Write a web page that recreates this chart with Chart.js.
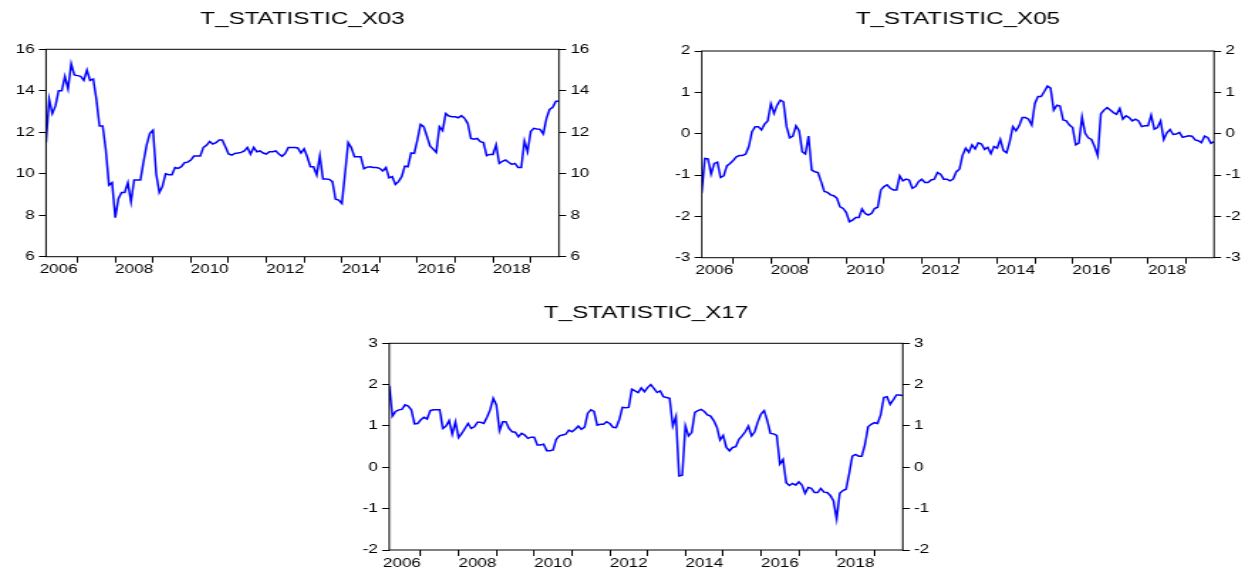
<!DOCTYPE html>
<html>
<head>
<meta charset="utf-8">
<script src="https://cdn.jsdelivr.net/npm/chart.js@4.4.1/dist/chart.umd.min.js"></script>
<style>
  html, body { margin: 0; padding: 0; background: #fff; width: 1246px; height: 571px; overflow: hidden; }
  .panel { position: absolute; transform-origin: 0 0; }
</style>
</head>
<body>
<div class="panel" id="p1"><canvas id="c1"></canvas></div>
<div class="panel" id="p2"><canvas id="c2"></canvas></div>
<div class="panel" id="p3"><canvas id="c3"></canvas></div>
<script>
// monthly observations, first one is 2006M03
const START_YEAR = 2006;
const START_MONTH = 3;
const YEAR_LABELS = ["2006", "2008", "2010", "2012", "2014", "2016", "2018"];

const X03 = [
  11.5, 13.6, 12.9, 13.27, 14.0, 14.0, 14.7, 14.1, 15.3, 14.76,
  14.73, 14.7, 14.5, 15.0, 14.5, 14.57, 13.6, 12.3, 12.3, 11.15,
  9.45, 9.57, 7.88, 8.8, 9.1, 9.1, 9.57, 8.65, 9.7, 9.7,
  9.7, 10.6, 11.4, 11.95, 12.1, 10.0, 9.1, 9.4, 10.0, 9.95,
  9.95, 10.3, 10.26, 10.34, 10.53, 10.56, 10.66, 10.85, 10.85, 10.85,
  11.27, 11.37, 11.55, 11.43, 11.5, 11.63, 11.63, 11.3, 10.95, 10.9,
  10.98, 11.0, 11.03, 11.1, 11.27, 10.95, 11.27, 11.06, 11.1, 11.0,
  10.95, 11.06, 11.06, 11.1, 10.95, 10.84, 10.98, 11.27, 11.27, 11.26,
  11.24, 11.0, 11.2, 10.82, 10.34, 10.34, 9.94, 10.86,
  9.75, 9.75, 9.73, 9.62, 8.77, 8.73, 8.57, 10.0, 11.5, 11.26,
  10.82, 10.82, 10.82, 10.24, 10.32, 10.34, 10.3, 10.3, 10.26, 10.13,
  10.3, 9.8, 9.86, 9.49, 9.62, 9.86, 10.37, 10.34, 11.0, 10.98,
  11.63, 12.38, 12.27, 11.82, 11.34, 11.19, 11.03, 12.27, 12.08, 12.9,
  12.78, 12.75, 12.75, 12.7, 12.8, 12.67, 12.43, 11.7, 11.66, 11.7,
  11.55, 11.5, 10.87, 10.93, 10.93, 11.39, 10.5, 10.6, 10.66, 10.55,
  10.45, 10.5, 10.3, 10.3, 11.58, 11.06, 12.03, 12.19, 12.16, 12.14,
  11.92, 12.67, 13.1, 13.2, 13.5, 13.5
];

const X05 = [
  -1.44, -0.6, -0.61, -0.98, -0.72, -0.69, -1.06, -1.02, -0.78, -0.72,
  -0.65, -0.56, -0.53, -0.53, -0.49, -0.31, 0.05, 0.17, 0.17, 0.09,
  0.23, 0.31, 0.72, 0.49, 0.69, 0.81, 0.77, 0.17, -0.1, -0.06,
  0.19, 0.07, -0.44, -0.49, -0.06, -0.88, -0.92, -0.94, -1.16, -1.4,
  -1.42, -1.48, -1.5, -1.56, -1.77, -1.81, -1.91, -2.13, -2.09, -2.03,
  -2.03, -1.82, -1.93, -1.97, -1.93, -1.81, -1.78, -1.36, -1.28, -1.24,
  -1.32, -1.36, -1.36, -1.02, -1.14, -1.1, -1.12, -1.32, -1.28, -1.16,
  -1.1, -1.18, -1.18, -1.12, -1.1, -0.94, -0.98, -1.1, -1.1, -1.14,
  -1.1,
  -0.92, -0.86, -0.52, -0.35, -0.45, -0.27, -0.37, -0.22, -0.25, -0.38,
  -0.33, -0.48, -0.31, -0.35, -0.14, -0.41, -0.46, -0.19, 0.17, 0.07,
  0.19, 0.39, 0.39, 0.35, 0.21, 0.73, 0.9, 0.9, 1.02, 1.15,
  1.1, 0.57, 0.69, 0.67, 0.33, 0.31, 0.21, 0.15, -0.27, -0.23,
  0.4, 0.01, -0.1, -0.14, -0.31, -0.53, 0.48, 0.57, 0.63, 0.57,
  0.51, 0.47, 0.61, 0.35, 0.43, 0.39, 0.31, 0.35, 0.31, 0.17,
  0.19, 0.19, 0.45, 0.11, 0.15, 0.31, -0.14, 0.02, 0.1, -0.02,
  -0.01, 0.03, -0.09, -0.07, -0.05, -0.06, -0.15, -0.17, -0.22, -0.06,
  -0.09, -0.23, -0.19
];

const X17 = [
  1.97, 1.24, 1.35, 1.39, 1.4, 1.51, 1.48, 1.39, 1.05, 1.06,
  1.15, 1.21, 1.17, 1.37, 1.39, 1.39, 1.39, 0.94, 1.0, 1.13,
  0.8, 1.1, 0.72, 0.82, 0.94, 1.06, 0.94, 0.98, 1.09, 1.09,
  1.06, 1.21, 1.39, 1.67, 1.51, 0.88, 1.1, 1.1, 0.94, 0.86,
  0.85, 0.74, 0.82, 0.78, 0.7, 0.73, 0.73, 0.54, 0.54, 0.56,
  0.4, 0.4, 0.42, 0.68, 0.76, 0.78, 0.8, 0.9, 0.86, 0.92,
  1.0, 0.92, 0.97, 1.31, 1.39, 1.35, 1.02, 1.04, 1.04, 1.1,
  1.06, 0.97, 0.96, 1.15, 1.45, 1.44, 1.45, 1.89, 1.85, 1.81,
  1.92, 1.83, 1.93, 2.0,
  1.91, 1.81, 1.85, 1.71, 1.69, 1.67, 1.0, 1.23, -0.21, -0.19,
  1.0, 0.76, 0.84, 1.33, 1.37, 1.4, 1.35, 1.27, 1.24, 1.13,
  0.97, 0.66, 0.77, 0.48, 0.4, 0.48, 0.5, 0.68, 0.76, 0.86,
  1.0, 0.76, 0.86, 1.1, 1.29, 1.37, 1.13, 0.82, 0.81, 0.77,
  0.08, 0.19, -0.37, -0.44, -0.39, -0.43, -0.35, -0.43, -0.63, -0.49,
  -0.51, -0.61, -0.61, -0.51, -0.6, -0.61, -0.68, -0.81, -1.25, -0.63,
  -0.56, -0.53, -0.15, 0.27, 0.31, 0.27, 0.27, 0.55, 0.98, 1.04,
  1.08, 1.06, 1.27, 1.69, 1.71, 1.52, 1.63, 1.75, 1.75, 1.74
];

const X03_TICKS = [6, 8, 10, 12, 14, 16];
const X05_TICKS = [-3, -2, -1, 0, 1, 2];
const X17_TICKS = [-2, -1, 0, 1, 2, 3];

// the original graphs are stretched sideways, so every panel is drawn narrow and scaled
const SX = 1.42;
const FONT = "'Liberation Sans', Arial, sans-serif";
const TITLE_SIZE = 17;

// page pixels: wrapper origin, size, plot area, title centre
const panels = [
  { id: "1", title: "T_STATISTIC_X03", data: X03, ticks: X03_TICKS,
    x: 0, y: 0, w: 625, h: 290, left: 46, right: 559, top: 49.3, bottom: 256.7, titleY: 19 },
  { id: "2", title: "T_STATISTIC_X05", data: X05, ticks: X05_TICKS,
    x: 640, y: 0, w: 605, h: 290, left: 701.7, right: 1214, top: 51, bottom: 257.7, titleY: 19 },
  { id: "3", title: "T_STATISTIC_X17", data: X17, ticks: X17_TICKS,
    x: 330, y: 290, w: 629, h: 281, left: 389.3, right: 902.7, top: 343.3, bottom: 550, titleY: 313 }
];

function janIndex(year) {
  return (year - START_YEAR) * 12 + (1 - START_MONTH);
}

const frame = {
  id: "frame",
  afterDatasetsDraw(chart) {
    const a = chart.chartArea;
    const ctx = chart.ctx;
    ctx.save();
    ctx.strokeStyle = "#000";
    ctx.lineWidth = 1;
    ctx.strokeRect(a.left, a.top, a.right - a.left, a.bottom - a.top);
    ctx.restore();
  }
};

function yAxis(p, side, cw) {
  return {
    type: "linear",
    position: side,
    min: p.ticks[0],
    max: p.ticks[p.ticks.length - 1],
    afterBuildTicks: s => { s.ticks = p.ticks.map(v => ({ value: v })); },
    afterFit: s => { s.width = side === "left" ? (p.left - p.x) / SX : cw - (p.right - p.x) / SX; },
    grid: { drawOnChartArea: false, tickLength: 5, tickColor: "#000" },
    border: { display: false },
    ticks: { padding: 3, color: "#000", font: { family: FONT, size: 12 } }
  };
}

function makeChart(p) {
  const n = p.data.length;
  const cw = Math.round(p.w / SX);
  const wrap = document.getElementById("p" + p.id);
  wrap.style.left = p.x + "px";
  wrap.style.top = p.y + "px";
  wrap.style.transform = "scaleX(" + SX + ")";
  const canvas = document.getElementById("c" + p.id);
  canvas.width = cw;
  canvas.height = p.h;

  // january ticks, year labels centred in every second year
  const jan = [];
  for (let yr = START_YEAR; janIndex(yr) <= n - 1; yr++) {
    if (janIndex(yr) > 0) jan.push(janIndex(yr));
  }
  const labelAt = {};
  YEAR_LABELS.forEach(l => { labelAt[janIndex(+l) + 6] = l; });
  const xTicks = jan.concat(Object.keys(labelAt).map(Number)).sort((a, b) => a - b);

  const lineH = TITLE_SIZE * 1.2;
  const titleTop = p.titleY - p.y - lineH / 2;
  const titleBottom = (p.top - p.y) - titleTop - lineH;

  return new Chart(canvas, {
    type: "line",
    data: {
      datasets: [{
        data: p.data.map((v, i) => ({ x: i, y: v })),
        borderColor: "#0000ff",
        borderWidth: 1.5,
        pointRadius: 0,
        tension: 0,
        fill: false
      }]
    },
    options: {
      responsive: false,
      animation: false,
      devicePixelRatio: 1,
      layout: { padding: 0 },
      plugins: {
        legend: { display: false },
        tooltip: { enabled: false },
        title: {
          display: true,
          text: p.title,
          fullSize: false,
          color: "#000",
          font: { family: FONT, size: TITLE_SIZE, weight: "normal" },
          padding: { top: titleTop, bottom: titleBottom }
        }
      },
      scales: {
        x: {
          type: "linear",
          min: 0,
          max: n - 1,
          afterBuildTicks: s => { s.ticks = xTicks.map(v => ({ value: v })); },
          afterFit: s => { s.height = p.h - (p.bottom - p.y); },
          grid: {
            drawOnChartArea: false,
            tickLength: 6,
            tickColor: c => (c.tick && jan.includes(c.tick.value)) ? "#000" : "rgba(0,0,0,0)"
          },
          border: { display: false },
          ticks: {
            autoSkip: false,
            maxRotation: 0,
            padding: 0,
            color: "#000",
            font: { family: FONT, size: 12 },
            callback: v => labelAt[v] || ""
          }
        },
        y: yAxis(p, "left", cw),
        y2: yAxis(p, "right", cw)
      }
    },
    plugins: [frame]
  });
}

panels.forEach(makeChart);
</script>
</body>
</html>
